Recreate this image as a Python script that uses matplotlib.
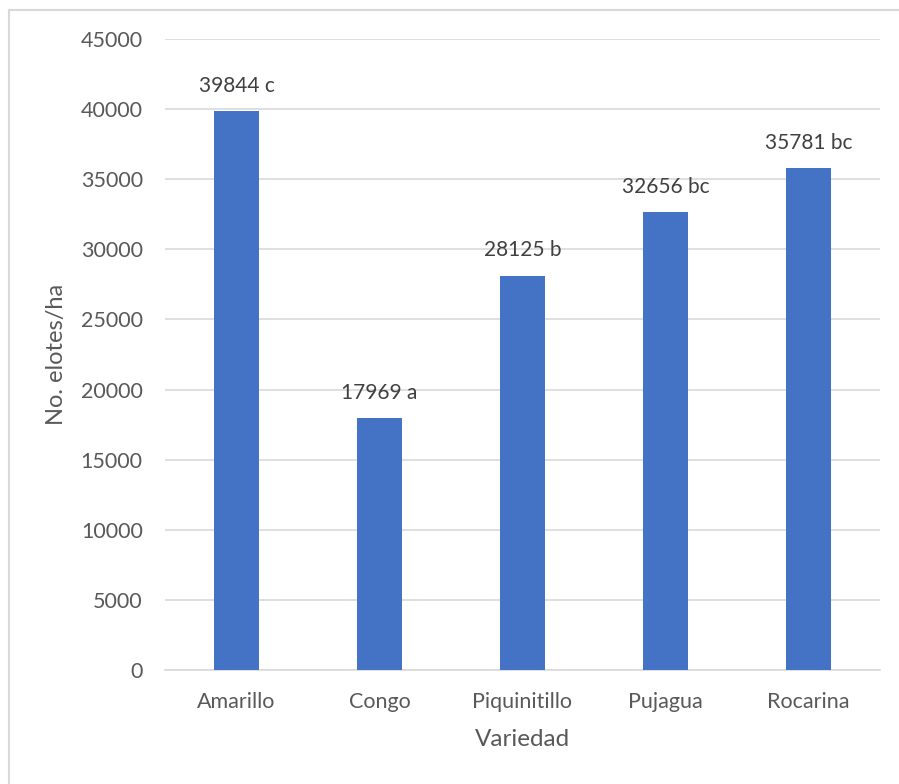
import matplotlib
matplotlib.use("Agg")
import matplotlib.pyplot as plt
from matplotlib.lines import Line2D

# Data
variedades = ["Amarillo", "Congo", "Piquinitillo", "Pujagua", "Rocarina"]
elotes = [39844, 17969, 28125, 32656, 35781]
letras = ["c", "a", "b", "bc", "bc"]
yticks = [0, 5000, 10000, 15000, 20000, 25000, 30000, 35000, 40000, 45000]

plt.rcParams['font.family'] = ['Lato', 'DejaVu Sans']

W, H = 899, 784
fig = plt.figure(figsize=(W / 100, H / 100), dpi=100)

# outer chart border (only left and top visible in the crop)
fig.add_artist(Line2D([9 / W, 9 / W], [0, 1 - 10 / H], transform=fig.transFigure,
                      color="#d9d9d9", lw=1.5))
fig.add_artist(Line2D([9 / W, 1], [1 - 10 / H, 1 - 10 / H], transform=fig.transFigure,
                      color="#d9d9d9", lw=1.5))

ax = fig.add_axes([165 / W, 1 - 670 / H, 715 / W, 631 / H])

x = range(len(variedades))
bars = ax.bar(x, elotes, width=0.31, color="#4472c4", zorder=3)

for xi, v, l in zip(x, elotes, letras):
    ax.text(xi, v + 1100, f"{v} {l}", ha="center", va="bottom",
            fontsize=15, color="#404040")

ax.set_xlim(-0.5, len(variedades) - 0.5)
ax.set_ylim(0, 45000)
ax.set_yticks(yticks)
ax.set_yticklabels([str(t) for t in yticks])
ax.set_xticks(list(x))
ax.set_xticklabels(variedades)

ax.grid(axis="y", color="#d9d9d9", lw=1.2, zorder=0)
for s in ["top", "right", "left"]:
    ax.spines[s].set_visible(False)
ax.spines["bottom"].set_color("#d9d9d9")
ax.spines["bottom"].set_linewidth(1.2)

ax.tick_params(axis="both", length=0, labelsize=15.5, labelcolor="#595959")
ax.tick_params(axis="y", pad=16)
ax.tick_params(axis="x", pad=16)

ax.set_ylabel("No. elotes/ha", fontsize=17, color="#595959", labelpad=10)
ax.set_xlabel("Variedad", fontsize=17.5, color="#595959", labelpad=12)

fig.savefig("out.png", dpi=100, facecolor="white")
